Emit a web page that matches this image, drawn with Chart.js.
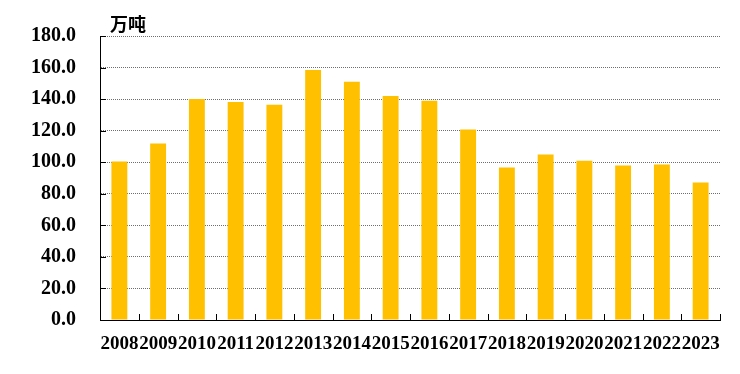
<!DOCTYPE html>
<html><head><meta charset="utf-8">
<script src="https://cdn.jsdelivr.net/npm/chart.js@4.4.1/dist/chart.umd.min.js"></script>
<style>html,body{margin:0;padding:0;background:#fff}#wrap{width:740px;height:374px}</style>
</head><body><div id="wrap"><canvas id="c" width="740" height="374"></canvas></div>
<script>
const categories = ['2008','2009','2010','2011','2012','2013','2014','2015','2016','2017','2018','2019','2020','2021','2022','2023'];
const values = [100.5, 111.8, 140.0, 138.2, 136.5, 158.5, 151.0, 142.0, 139.0, 120.7, 96.6, 104.9, 101.0, 97.9, 98.5, 87.2];
const unitLabel = '万吨';
const yMin = 0, yMax = 180, yStep = 20;

const serif = '"Liberation Serif","DejaVu Serif",serif';

const innerTicks = {
  id: 'innerTicks',
  afterDatasetsDraw(chart) {
    const {ctx, chartArea, scales} = chart;
    const y = scales.y;
    ctx.save();
    ctx.strokeStyle = '#000';
    ctx.lineWidth = 1;
    ctx.setLineDash([]);
    ctx.beginPath();
    const n = categories.length;
    const w = (chartArea.right - chartArea.left) / n;
    for (let i = 1; i <= n; i++) {
      const px = Math.round(chartArea.left + i * w) + 0.5;
      ctx.moveTo(px, chartArea.bottom);
      ctx.lineTo(px, chartArea.bottom - 6);
    }
    y.ticks.forEach((t, i) => {
      const py = Math.round(y.getPixelForTick(i)) + 0.5;
      ctx.moveTo(chartArea.left, py);
      ctx.lineTo(chartArea.left + 6, py);
    });
    // solid axis lines
    ctx.moveTo(chartArea.left + 0.5, chartArea.top);
    ctx.lineTo(chartArea.left + 0.5, chartArea.bottom);
    ctx.moveTo(chartArea.left, Math.round(chartArea.bottom) + 0.5);
    ctx.lineTo(chartArea.right, Math.round(chartArea.bottom) + 0.5);
    ctx.stroke();
    ctx.font = 'bold 18px "Noto Sans CJK SC", sans-serif';
    ctx.fillStyle = '#000';
    ctx.textBaseline = 'middle';
    ctx.textAlign = 'left';
    ctx.fillText(unitLabel, 110, 24);
    ctx.restore();
  }
};

new Chart(document.getElementById('c'), {
  type: 'bar',
  data: {
    labels: categories,
    datasets: [{ data: values, backgroundColor: '#FFC000', borderWidth: 0,
      categoryPercentage: 1.0, barPercentage: 0.41 }]
  },
  options: {
    responsive: false,
    animation: false,
    devicePixelRatio: 1,
    layout: { padding: { left: 0, right: 20, top: 35, bottom: 0 } },
    plugins: { legend: { display: false }, tooltip: { enabled: false }, title: { display: false } },
    scales: {
      x: {
        offset: true,
        grid: { display: false, drawTicks: false },
        border: { display: true, color: '#000', width: 1 },
        ticks: { color: '#000', padding: 13, maxRotation: 0, autoSkip: false,
          font: { family: serif, size: 19, weight: 'bold' } },
        afterFit(s) { s.height = 54; }
      },
      y: {
        min: yMin, max: yMax,
        grid: { color: '#6e6e6e', lineWidth: 1, drawTicks: false },
        border: { display: true, color: '#000', width: 1, dash: [1, 1] },
        ticks: { stepSize: yStep, color: '#000', padding: 24,
          font: { family: serif, size: 20, weight: 'bold' },
          callback: v => v.toFixed(1) },
        afterFit(s) { s.width = 100; }
      }
    }
  },
  plugins: [innerTicks]
});
</script></body></html>
